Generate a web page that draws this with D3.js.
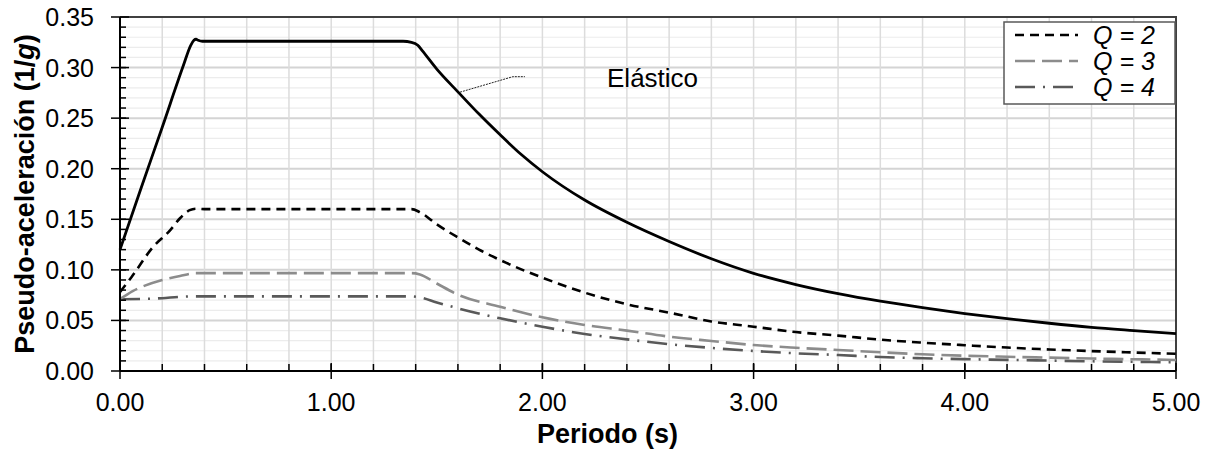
<!DOCTYPE html>
<html>
<head>
<meta charset="utf-8">
<script src="https://cdn.jsdelivr.net/npm/d3@7"></script>
<style>
  body { margin: 0; background: #fff; }
  text { font-family: "Liberation Sans", Arial, sans-serif; }
</style>
</head>
<body>
<svg id="chart" width="1212" height="452"></svg>
<script>
// periods (s) and spectral ordinates
const elasticT = [0, 0.1, 0.2, 0.3, 0.335, 0.35, 0.36, 0.37, 0.39, 0.5, 1.0, 1.34, 1.38, 1.41, 1.43, 1.5, 1.6, 1.7, 1.8, 1.9, 2.0, 2.2, 2.4, 2.6, 2.8, 3.0, 3.2, 3.4, 3.6, 3.8, 4.0, 4.2, 4.4, 4.6, 4.8, 5.0];
const elasticV = [0.120, 0.181, 0.241, 0.302, 0.322, 0.327, 0.328, 0.327, 0.326, 0.326, 0.326, 0.326, 0.325, 0.322, 0.317, 0.2985, 0.276, 0.254, 0.2335, 0.214, 0.197, 0.169, 0.147, 0.128, 0.111, 0.0966, 0.0855, 0.0765, 0.0690, 0.0626, 0.0568, 0.0518, 0.0472, 0.0432, 0.0400, 0.0370];

const q2T = [0, 0.055, 0.158, 0.237, 0.284, 0.33, 0.36, 0.40, 1.0, 1.38, 1.42, 1.5, 1.6, 1.7, 1.8, 1.9, 2.0, 2.2, 2.4, 2.6, 2.8, 3.0, 3.2, 3.4, 3.6, 3.8, 4.0, 4.2, 4.4, 4.6, 4.8, 5.0];
const q2V = [0.078, 0.093, 0.123, 0.139, 0.151, 0.159, 0.1605, 0.160, 0.160, 0.160, 0.157, 0.145, 0.132, 0.120, 0.1097, 0.1005, 0.0923, 0.0775, 0.066, 0.0577, 0.049, 0.0438, 0.0385, 0.035, 0.031, 0.028, 0.0255, 0.0232, 0.0213, 0.0197, 0.0183, 0.017];

const q3T = [0, 0.06, 0.118, 0.2, 0.284, 0.36, 0.40, 1.0, 1.38, 1.42, 1.5, 1.6, 1.8, 2.0, 2.2, 2.4, 2.6, 2.8, 3.0, 3.2, 3.4, 3.6, 3.8, 4.0, 4.2, 4.4, 4.6, 4.8, 5.0];
const q3V = [0.071, 0.079, 0.0844, 0.090, 0.094, 0.0968, 0.0968, 0.0968, 0.0968, 0.0955, 0.0865, 0.0755, 0.0636, 0.0531, 0.0455, 0.0399, 0.034, 0.0297, 0.0257, 0.023, 0.0208, 0.0185, 0.0165, 0.0151, 0.0141, 0.0132, 0.0123, 0.0116, 0.0109];

const q4T = [0, 0.1, 0.2, 0.28, 0.36, 1.0, 1.38, 1.42, 1.5, 1.6, 1.8, 2.0, 2.2, 2.4, 2.6, 2.8, 3.0, 3.2, 3.4, 3.6, 3.8, 4.0, 4.2, 4.4, 4.6, 4.8, 5.0];
const q4V = [0.071, 0.0712, 0.072, 0.0733, 0.0738, 0.0738, 0.0738, 0.0728, 0.0678, 0.062, 0.0521, 0.0438, 0.0366, 0.0313, 0.0265, 0.0228, 0.0198, 0.0175, 0.0158, 0.0138, 0.0126, 0.0117, 0.011, 0.0103, 0.0096, 0.0091, 0.0086];

const legendLabels = ['2', '3', '4'];
const xTicks = [0, 1, 2, 3, 4, 5];
const yTicks = [0, 0.05, 0.10, 0.15, 0.20, 0.25, 0.30, 0.35];
// leader line for the "Elástico" note: [T, value]
const noteLine = [[1.61, 0.2757], [1.86, 0.291], [1.917, 0.291]];
const notePos = [2.306, 0.281];

const svg = d3.select('#chart');
const margin = { left: 120, right: 36, top: 17, bottom: 81 };
const width = 1212, height = 452;
const innerW = width - margin.left - margin.right;
const innerH = height - margin.top - margin.bottom;

const x = d3.scaleLinear().domain([0, 5]).range([margin.left, margin.left + innerW]);
const y = d3.scaleLinear().domain([0, 0.35]).range([margin.top + innerH, margin.top]);

// grid
const grid = svg.append('g');
grid.selectAll('.hmin').data(d3.range(0, 36).map(i => i / 100))
  .join('line')
    .attr('x1', x(0)).attr('x2', x(5))
    .attr('y1', d => y(d)).attr('y2', d => y(d))
    .attr('stroke', (d, i) => i % 5 === 0 ? '#d4d4d4' : '#ececec')
    .attr('stroke-width', (d, i) => i % 5 === 0 ? 2 : 1.2);
grid.selectAll('.vmin').data(d3.range(1, 25).map(i => i * 0.2))
  .join('line')
    .attr('x1', d => x(d)).attr('x2', d => x(d))
    .attr('y1', y(0)).attr('y2', y(0.35))
    .attr('stroke', '#dcdcdc')
    .attr('stroke-width', 1.5);

// frame top/right
svg.append('path')
  .attr('d', `M${x(0)},${y(0.35)}H${x(5)}V${y(0)}`)
  .attr('fill', 'none')
  .attr('stroke', '#404040')
  .attr('stroke-width', 2);

// curves
const line = d3.line().x(d => x(d[0])).y(d => y(d[1])).curve(d3.curveMonotoneX);
const series = [
  { t: q4T, v: q4V, color: '#595959', dash: '20,8,2,8' },
  { t: q3T, v: q3V, color: '#8c8c8c', dash: '20,7' },
  { t: q2T, v: q2V, color: '#000', dash: '9,6' },
  { t: elasticT, v: elasticV, color: '#000', dash: null }
];
series.forEach(s => {
  svg.append('path')
    .datum(d3.zip(s.t, s.v))
    .attr('d', line)
    .attr('fill', 'none')
    .attr('stroke', s.color)
    .attr('stroke-width', s.dash ? 2.6 : 2.8)
    .attr('stroke-dasharray', s.dash);
});

// note
svg.append('path')
  .attr('d', d3.line().x(d => x(d[0])).y(d => y(d[1]))(noteLine))
  .attr('fill', 'none')
  .attr('stroke', '#222')
  .attr('stroke-width', 1)
  .attr('stroke-dasharray', '2,1');
svg.append('text')
  .attr('x', x(notePos[0])).attr('y', y(notePos[1]))
  .attr('font-size', 26)
  .text('Elástico');

// axes
const xAxisG = svg.append('g');
xAxisG.selectAll('.mt').data(d3.range(1, 25).map(i => i * 0.2))
  .join('line')
    .attr('x1', d => x(d)).attr('x2', d => x(d))
    .attr('y1', y(0) - 7).attr('y2', y(0))
    .attr('stroke', '#000').attr('stroke-width', 1.5);
xAxisG.selectAll('.Mt').data(xTicks)
  .join('line')
    .attr('x1', d => x(d)).attr('x2', d => x(d))
    .attr('y1', y(0) - 8).attr('y2', y(0) + 8)
    .attr('stroke', '#000').attr('stroke-width', 1.5);
xAxisG.selectAll('.xl').data(xTicks)
  .join('text')
    .attr('x', d => x(d)).attr('y', y(0) + 40)
    .attr('text-anchor', 'middle')
    .attr('font-size', 25)
    .text(d => d3.format('.2f')(d));

const yAxisG = svg.append('g');
yAxisG.selectAll('.mt').data(d3.range(1, 35).map(i => i / 100))
  .join('line')
    .attr('x1', x(0)).attr('x2', x(0) + 6)
    .attr('y1', d => y(d)).attr('y2', d => y(d))
    .attr('stroke', '#000').attr('stroke-width', 1.5);
yAxisG.selectAll('.Mt').data(yTicks)
  .join('line')
    .attr('x1', x(0) - 9).attr('x2', x(0) + 9)
    .attr('y1', d => y(d)).attr('y2', d => y(d))
    .attr('stroke', '#000').attr('stroke-width', 1.5);
yAxisG.selectAll('.yl').data(yTicks)
  .join('text')
    .attr('x', x(0) - 26).attr('y', d => y(d) + 9)
    .attr('text-anchor', 'end')
    .attr('font-size', 25)
    .text(d => d3.format('.2f')(d));

svg.append('line')
  .attr('x1', x(0)).attr('x2', x(5)).attr('y1', y(0)).attr('y2', y(0))
  .attr('stroke', '#000').attr('stroke-width', 2);
svg.append('line')
  .attr('x1', x(0)).attr('x2', x(0)).attr('y1', y(0)).attr('y2', y(0.35))
  .attr('stroke', '#000').attr('stroke-width', 2);

// axis titles
svg.append('text')
  .attr('x', 537).attr('y', 443)
  .attr('font-size', 27).attr('font-weight', 'bold')
  .text('Periodo (s)');
const yt = svg.append('text')
  .attr('transform', `translate(34,${(y(0) + y(0.35)) / 2}) rotate(-90)`)
  .attr('text-anchor', 'middle')
  .attr('font-size', 27).attr('font-weight', 'bold');
yt.append('tspan').text('Pseudo-aceleración (1/');
yt.append('tspan').attr('font-style', 'italic').text('g');
yt.append('tspan').text(')');

// legend
const lg = svg.append('g');
lg.append('rect')
  .attr('x', 1004).attr('y', 22).attr('width', 171).attr('height', 82)
  .attr('fill', '#fff').attr('stroke', '#595959').attr('stroke-width', 1.5);
const legSeries = [series[2], series[1], series[0]];
legSeries.forEach((s, i) => {
  const yy = 35 + i * 26;
  lg.append('line')
    .attr('x1', 1015).attr('x2', 1078).attr('y1', yy).attr('y2', yy)
    .attr('stroke', s.color).attr('stroke-width', 2.6)
    .attr('stroke-dasharray', s.dash);
  lg.append('text')
    .attr('x', 1093).attr('y', yy + 9)
    .attr('font-size', 25).attr('font-style', 'italic')
    .text('Q = ' + legendLabels[i]);
});
</script>
</body>
</html>
